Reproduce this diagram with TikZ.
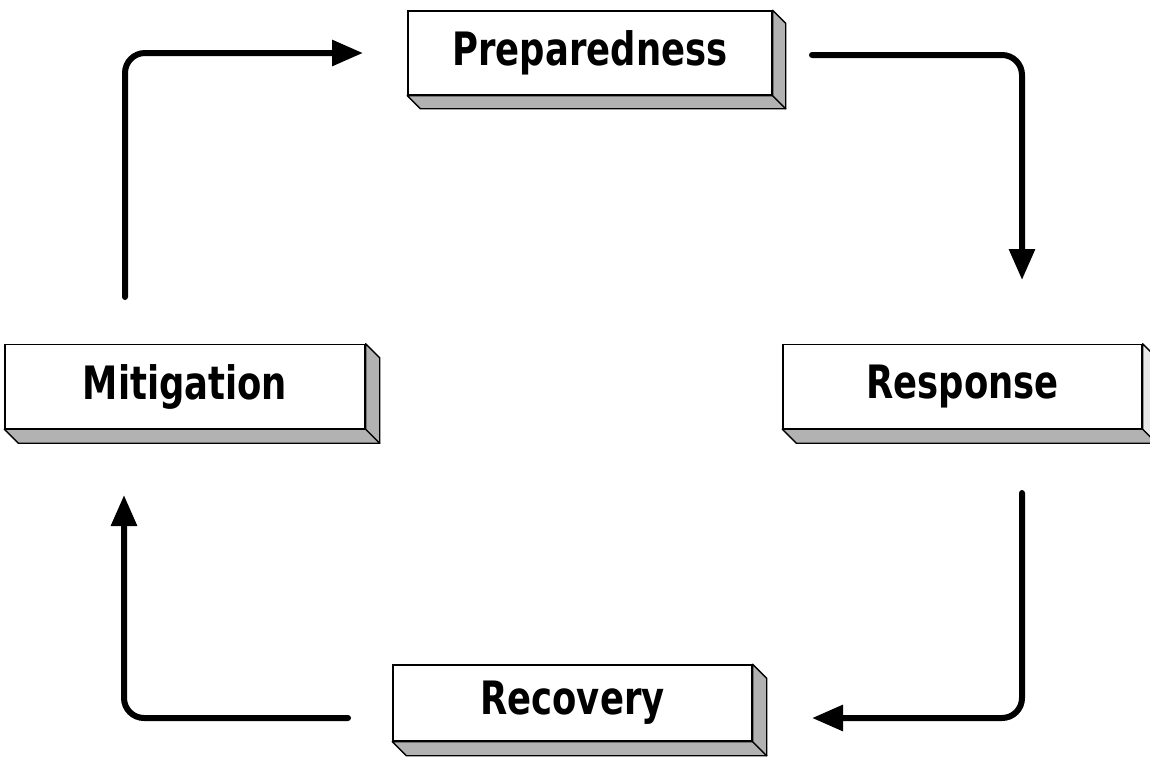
\documentclass[tikz,border=0pt]{standalone}
\usepackage{fontspec}
\newfontfamily\lblfont[FakeStretch=0.77]{DejaVu Sans}
\usetikzlibrary{arrows.meta,calc}
\begin{document}
\begin{tikzpicture}[x=1pt,y=-1pt,
  stagebox/.style={draw=black, line width=1.4pt, fill=white, inner sep=0pt,
    minimum height=84pt, font=\lblfont\bfseries\fontsize{46}{52}\selectfont},
  face/.style={draw=black, line width=1.4pt, fill=gray!60, line join=round},
  lightface/.style={draw=black, line width=1.4pt, fill=gray!18, line join=round},
  cycle arrow/.style={line width=6pt, rounded corners=20pt, line cap=round,
    -{Triangle[length=31pt,width=25pt]}}]
\useasboundingbox (0,0) rectangle (1150,766);

% stage boxes (front faces)
\node[stagebox, minimum width=364pt] (P) at (590,53) {Preparedness};
\node[stagebox, minimum width=360pt] (M) at (185,386.5) {Mitigation};
\node[stagebox, minimum width=359pt] (S) at (962.5,386.5) {Response};
\node[stagebox, minimum width=359pt, minimum height=76pt] (R) at (572.5,703) {Recovery};

% depth faces
\foreach \n/\d in {P/13,M/14,R/14} {
  \draw[face] (\n.south west) -- ++(\d,\d) -- ($(\n.south east)+(\d,\d)$)
     -- (\n.south east) -- cycle;
  \draw[face] (\n.north east) -- ++(\d,\d) -- ($(\n.south east)+(\d,\d)$)
     -- (\n.south east) -- cycle;
}
\draw[face] (S.south west) -- ++(14,14) -- ($(S.south east)+(14,14)$)
   -- (S.south east) -- cycle;
\draw[lightface] (S.north east) -- ++(14,14) -- ($(S.south east)+(14,14)$)
   -- (S.south east) -- cycle;

% arrow end points
\coordinate (a1s) at (125,297);
\coordinate (a1c) at (125,53);
\coordinate (a1e) at (363,53);
\coordinate (a2s) at (812,55);
\coordinate (a2c) at (1022,55);
\coordinate (a2e) at (1022,280);
\coordinate (a3s) at (1022,493);
\coordinate (a3c) at (1022,718);
\coordinate (a3e) at (812,718);
\coordinate (a4s) at (348,718);
\coordinate (a4c) at (124,718);
\coordinate (a4e) at (124,495);

\draw[cycle arrow] (a1s) -- (a1c) -- (a1e);
\draw[cycle arrow] (a2s) -- (a2c) -- (a2e);
\draw[cycle arrow] (a3s) -- (a3c) -- (a3e);
\draw[cycle arrow] (a4s) -- (a4c) -- (a4e);
\end{tikzpicture}
\end{document}
